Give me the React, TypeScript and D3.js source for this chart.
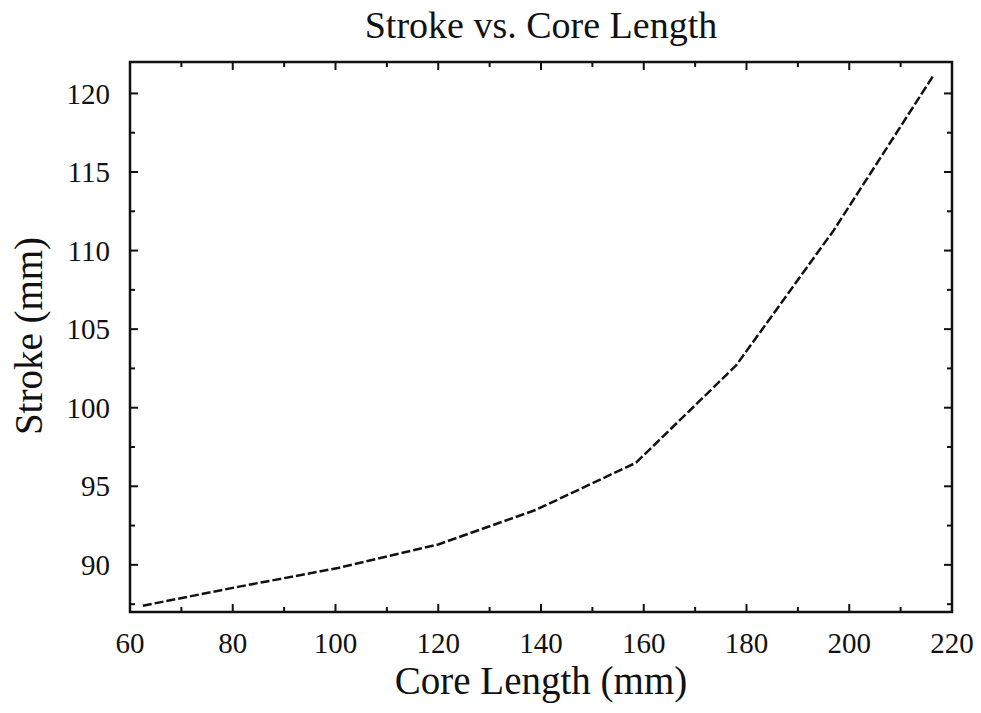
import React from "react";
import * as d3 from "d3";

const coreLength = [62.5, 81, 100.5, 120, 139, 158.5, 178, 197, 216.5];
const stroke = [87.4, 88.6, 89.8, 91.3, 93.5, 96.5, 102.7, 111.3, 121.2];
const xMajorTicks = [60, 80, 100, 120, 140, 160, 180, 200, 220];
const xMinorTicks = [70, 90, 110, 130, 150, 170, 190, 210];
const yMajorTicks = [90, 95, 100, 105, 110, 115, 120];
const yMinorTicks = [87.5, 92.5, 97.5, 102.5, 107.5, 112.5, 117.5];

const W = 981;
const H = 713;
const L = 130, R = 952, T = 62, B = 612;
const FONT = "'Liberation Serif', 'Times New Roman', serif";

export default function App() {
  const x = d3.scaleLinear().domain([60, 220]).range([L, R]);
  const y = d3.scaleLinear().domain([87, 122]).range([B, T]);
  const line = d3
    .line<number>()
    .x((_, i) => x(coreLength[i]))
    .y((d) => y(d));
  const major = 8;
  const minor = 5;
  return (
    <svg
      width={W}
      height={H}
      style={{ position: "absolute", left: 0, top: 0, background: "#fff" }}
    >
      <rect x={0} y={0} width={W} height={H} fill="#fff" />
      <text x={541} y={38} textAnchor="middle" fontFamily={FONT} fontSize={38} fill="#111">
        Stroke vs. Core Length
      </text>
      {/* ticks */}
      <g stroke="#111" strokeWidth={2}>
        {xMajorTicks.map((t) => (
          <g key={"xM" + t}>
            <line x1={x(t)} x2={x(t)} y1={B} y2={B - major} />
            <line x1={x(t)} x2={x(t)} y1={T} y2={T + major} />
          </g>
        ))}
        {xMinorTicks.map((t) => (
          <g key={"xm" + t}>
            <line x1={x(t)} x2={x(t)} y1={B} y2={B - minor} />
            <line x1={x(t)} x2={x(t)} y1={T} y2={T + minor} />
          </g>
        ))}
        {yMajorTicks.map((t) => (
          <g key={"yM" + t}>
            <line x1={L} x2={L + major} y1={y(t)} y2={y(t)} />
            <line x1={R} x2={R - major} y1={y(t)} y2={y(t)} />
          </g>
        ))}
        {yMinorTicks.map((t) => (
          <g key={"ym" + t}>
            <line x1={L} x2={L + minor} y1={y(t)} y2={y(t)} />
            <line x1={R} x2={R - minor} y1={y(t)} y2={y(t)} />
          </g>
        ))}
      </g>
      <rect x={L} y={T} width={R - L} height={B - T} fill="none" stroke="#111" strokeWidth={2.5} />
      <path
        d={line(stroke) || ""}
        fill="none"
        stroke="#111"
        strokeWidth={2.5}
        strokeDasharray="9 3"
      />
      {xMajorTicks.map((t) => (
        <text key={"xl" + t} x={x(t)} y={653} textAnchor="middle" fontFamily={FONT} fontSize={29} fill="#111">
          {t}
        </text>
      ))}
      {yMajorTicks.map((t) => (
        <text key={"yl" + t} x={110} y={y(t)} dy="0.35em" textAnchor="end" fontFamily={FONT} fontSize={29} fill="#111">
          {t}
        </text>
      ))}
      <text x={541} y={694} textAnchor="middle" fontFamily={FONT} fontSize={39} fill="#111">
        Core Length (mm)
      </text>
      <text
        transform={`translate(42, 336) rotate(-90)`}
        textAnchor="middle"
        fontFamily={FONT}
        fontSize={39}
        fill="#111"
      >
        Stroke (mm)
      </text>
    </svg>
  );
}
